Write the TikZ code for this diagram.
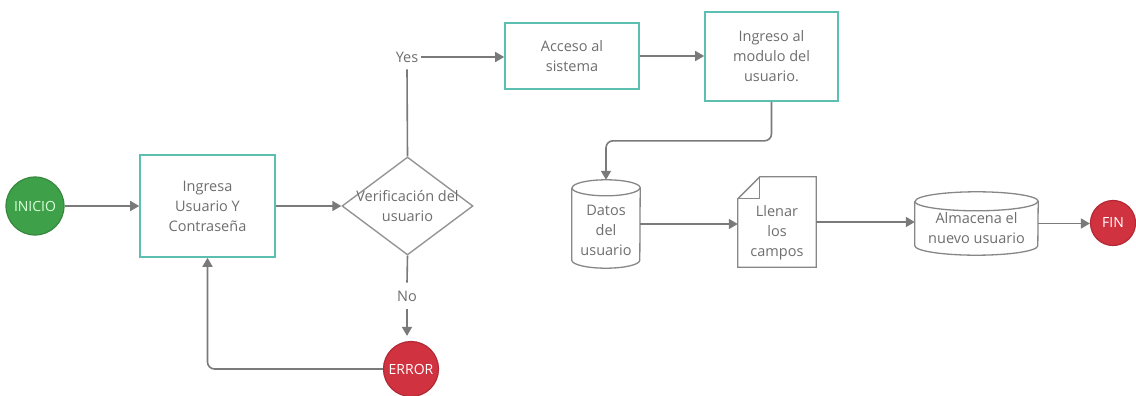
\documentclass[tikz,border=0pt]{standalone}
\usepackage{fontspec}
\setmainfont{Open Sans}
\usetikzlibrary{arrows.meta,shapes.geometric}
\definecolor{lineg}{HTML}{7A7A7A}
\definecolor{txtg}{HTML}{6E6E6E}
\definecolor{teal}{HTML}{5DBFB2}
\definecolor{startg}{HTML}{3FA04A}
\definecolor{stopr}{HTML}{D1323F}
\tikzset{
  every node/.style={font=\fontsize{14.5}{20}\selectfont, text=txtg, align=center},
  procbox/.style={draw=teal, line width=1.6pt, fill=white, inner sep=0pt},
  decision/.style={diamond, draw=lineg!80, line width=1.4pt, fill=white, inner sep=0pt,
    minimum width=131pt, minimum height=98pt, aspect=1.34},
  terminal/.style={circle, line width=1.2pt, inner sep=0pt, text=white,
    font=\fontsize{14}{16}\selectfont},
  plain/.style={draw=none, inner sep=0pt},
  flow/.style={draw=lineg, line width=1.6pt, rounded corners=7pt},
  arrow/.style={flow, -{Triangle[length=9pt,width=10pt]}},
  outline/.style={draw=lineg!90, line width=1.3pt, fill=white}
}
\begin{document}
\begin{tikzpicture}[x=1pt, y=-1pt]
\useasboundingbox (0,0) rectangle (1136,396);

% start / end points
\node[terminal, fill=startg, draw=startg!85!black, minimum size=58pt, text=green!15] (inicio) at (35,206) {INICIO};
\node[terminal, fill=stopr, draw=stopr!85!black, minimum size=55pt] (error) at (411,369) {ERROR};
\node[terminal, fill=stopr, draw=stopr!85!black, minimum size=45pt] (fin) at (1113,223) {FIN};

% process boxes
\node[procbox, minimum width=135pt, minimum height=102pt] (ingresa) at (207.5,206) {Ingresa\\Usuario Y\\Contraseña};
\node[decision, label={[align=center, inner sep=0pt]center:{Verificación del\\usuario}}] (verif) at (407.5,206) {};
\node[procbox, minimum width=134pt, minimum height=66pt] (acceso) at (572,56) {Acceso al\\sistema};
\node[procbox, minimum width=133pt, minimum height=89pt] (modulo) at (771.5,56.5) {Ingreso al\\modulo del\\usuario.};

% branch labels
\node[plain, fill=white, inner xsep=3pt, inner ysep=7pt] (yes) at (407,57) {Yes};
\node[plain, fill=white, inner xsep=3pt, inner ysep=8pt] (no) at (407,296) {No};

% data store: Datos del usuario
\node[plain, minimum width=68pt, minimum height=88pt] (datos) at (606,224) {};
\draw[outline] ([yshift=-8pt]datos.north west)
  -- ([yshift=8pt]datos.south west)
  arc[start angle=180, end angle=360, x radius=34pt, y radius=8pt]
  -- ([yshift=-8pt]datos.north east)
  arc[start angle=0, end angle=180, x radius=34pt, y radius=8pt];
\draw[outline, fill=none] ([yshift=-8pt]datos.north west)
  arc[start angle=180, end angle=360, x radius=34pt, y radius=8pt];
\node at ([yshift=-6pt]datos.center) {Datos\\del\\usuario};

% document: Llenar los campos
\node[plain, minimum width=78pt, minimum height=90pt] (llenar) at (777,222) {};
\draw[outline] ([xshift=22pt]llenar.north west) -- (llenar.north east)
  -- (llenar.south east) -- (llenar.south west) -- ([yshift=-22pt]llenar.north west) -- cycle;
\draw[outline, fill=none, line join=round] ([xshift=22pt]llenar.north west)
  -- ([xshift=22pt,yshift=-22pt]llenar.north west) -- ([yshift=-22pt]llenar.north west);
\node at ([yshift=-11pt]llenar.center) {Llenar\\los\\campos};

% data store: Almacena el nuevo usuario
\node[plain, minimum width=123pt, minimum height=63pt] (almacena) at (976.5,223.5) {};
\draw[outline] ([yshift=-9.5pt]almacena.north west)
  -- ([yshift=9.5pt]almacena.south west)
  arc[start angle=180, end angle=360, x radius=61.5pt, y radius=9.5pt]
  -- ([yshift=-9.5pt]almacena.north east)
  arc[start angle=0, end angle=180, x radius=61.5pt, y radius=9.5pt];
\draw[outline, fill=none] ([yshift=-9.5pt]almacena.north west)
  arc[start angle=180, end angle=360, x radius=61.5pt, y radius=9.5pt];
\node at ([yshift=-5pt]almacena.center) {Almacena el\\nuevo usuario};

% connectors
\draw[arrow] (inicio.east) -- (inicio.east -| ingresa.west);
\draw[arrow] (ingresa.east) -- (verif.west);
\draw[flow] (verif.north) -- (yes.south);
\draw[arrow] (yes.east) -- (yes.east -| acceso.west);
\draw[flow] (verif.south) -- (no.north);
\draw[arrow] (no.south) -- ([yshift=5pt]no.south |- error.north);
\draw[arrow] (error.west) -| (ingresa.south);
\draw[arrow] (acceso.east) -- (acceso.east -| modulo.west);
\draw[arrow] (modulo.south) -- ++(0,39) -| (datos.north);
\draw[arrow] (datos.east) -- (datos.east -| llenar.west);
\draw[arrow] (llenar.east) -- (llenar.east -| almacena.west);
\draw[arrow] (almacena.east) -- (almacena.east -| fin.west);
\end{tikzpicture}
\end{document}
